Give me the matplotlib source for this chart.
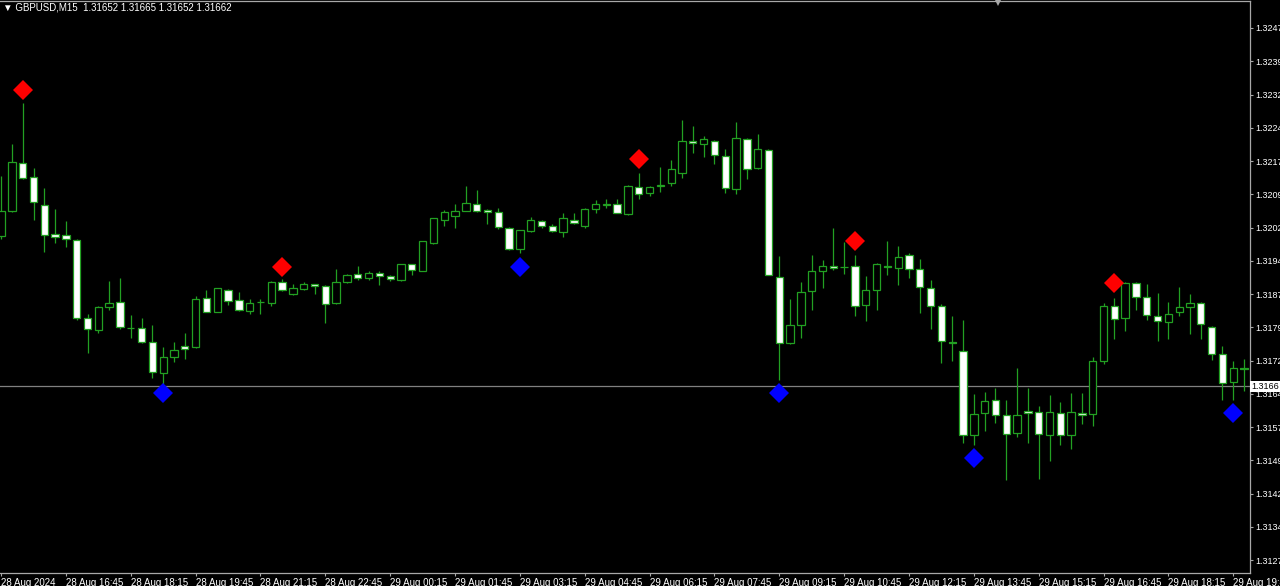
import matplotlib
matplotlib.use("Agg")
import matplotlib.pyplot as plt
import numpy as np

# GBPUSD M15 bars, first visible bar = 28 Aug 15:15
opens = [1.32001, 1.32058, 1.32165, 1.32133, 1.32070, 1.32005, 1.32004, 1.31992, 1.31816, 1.31789,
         1.31840, 1.31853, 1.31793, 1.31793, 1.31762, 1.31692, 1.31727, 1.31753, 1.31750, 1.31860,
         1.31830, 1.31880, 1.31857, 1.31831, 1.31851, 1.31849, 1.31898, 1.31869, 1.31882, 1.31892,
         1.31889, 1.31850, 1.31896, 1.31915, 1.31907, 1.31917, 1.31910, 1.31902, 1.31937, 1.31923,
         1.31984, 1.32037, 1.32046, 1.32058, 1.32074, 1.32060, 1.32056, 1.32020, 1.31971, 1.32011,
         1.32034, 1.32023, 1.32010, 1.32038, 1.32024, 1.32061, 1.32071, 1.32072, 1.32050, 1.32111,
         1.32097, 1.32113, 1.32120, 1.32144, 1.32215, 1.32208, 1.32216, 1.32182, 1.32106, 1.32220,
         1.32154, 1.32195, 1.31909, 1.31759, 1.31800, 1.31877, 1.31921, 1.31934, 1.31931, 1.31934,
         1.31845, 1.31878, 1.31934, 1.31928, 1.31958, 1.31927, 1.31884, 1.31843, 1.31761, 1.31741,
         1.31552, 1.31601, 1.31630, 1.31596, 1.31556, 1.31605, 1.31604, 1.31552, 1.31602, 1.31552,
         1.31602, 1.31599, 1.31719, 1.31843, 1.31815, 1.31895, 1.31864, 1.31820, 1.31806, 1.31830,
         1.31840, 1.31849, 1.31796, 1.31734, 1.31671, 1.31702]
highs = [1.32136, 1.32208, 1.32301, 1.32154, 1.32108, 1.32062, 1.32034, 1.31994, 1.31826, 1.31843,
         1.31899, 1.31907, 1.31822, 1.31817, 1.31800, 1.31751, 1.31761, 1.31781, 1.31865, 1.31879,
         1.31884, 1.31881, 1.31875, 1.31858, 1.31859, 1.31900, 1.31903, 1.31892, 1.31898, 1.31893,
         1.31890, 1.31927, 1.31915, 1.31934, 1.31922, 1.31922, 1.31913, 1.31938, 1.31938, 1.31990,
         1.32042, 1.32059, 1.32073, 1.32114, 1.32104, 1.32061, 1.32065, 1.32021, 1.32015, 1.32044,
         1.32037, 1.32027, 1.32053, 1.32052, 1.32063, 1.32083, 1.32084, 1.32084, 1.32115, 1.32144,
         1.32113, 1.32156, 1.32172, 1.32262, 1.32249, 1.32226, 1.32217, 1.32198, 1.32259, 1.32223,
         1.32231, 1.32196, 1.31956, 1.31858, 1.31898, 1.31957, 1.31947, 1.32018, 1.31988, 1.31958,
         1.31911, 1.31941, 1.31989, 1.31979, 1.31962, 1.31948, 1.31901, 1.31847, 1.31821, 1.31811,
         1.31644, 1.31649, 1.31659, 1.31631, 1.31702, 1.31657, 1.31617, 1.31642, 1.31626, 1.31646,
         1.31646, 1.31727, 1.31850, 1.31862, 1.31898, 1.31896, 1.31892, 1.31873, 1.31851, 1.31886,
         1.31870, 1.31852, 1.31797, 1.31753, 1.31719, 1.31723]
lows = [1.31994, 1.32055, 1.32130, 1.32037, 1.31964, 1.31986, 1.31977, 1.31811, 1.31736, 1.31781,
        1.31835, 1.31792, 1.31771, 1.31759, 1.31681, 1.31667, 1.31717, 1.31723, 1.31748, 1.31829,
        1.31829, 1.31845, 1.31832, 1.31826, 1.31825, 1.31844, 1.31877, 1.31868, 1.31880, 1.31871,
        1.31804, 1.31848, 1.31894, 1.31901, 1.31901, 1.31890, 1.31900, 1.31900, 1.31913, 1.31922,
        1.31982, 1.32023, 1.32018, 1.32057, 1.32055, 1.32029, 1.32017, 1.31970, 1.31962, 1.32010,
        1.32019, 1.32009, 1.31998, 1.32029, 1.32019, 1.32052, 1.32064, 1.32052, 1.32049, 1.32085,
        1.32091, 1.32099, 1.32113, 1.32131, 1.32189, 1.32178, 1.32163, 1.32098, 1.32095, 1.32129,
        1.32153, 1.31912, 1.31676, 1.31758, 1.31770, 1.31834, 1.31883, 1.31924, 1.31915, 1.31820,
        1.31810, 1.31835, 1.31913, 1.31890, 1.31907, 1.31828, 1.31791, 1.31715, 1.31719, 1.31534,
        1.31529, 1.31561, 1.31580, 1.31450, 1.31547, 1.31533, 1.31452, 1.31494, 1.31529, 1.31520,
        1.31576, 1.31573, 1.31713, 1.31768, 1.31787, 1.31835, 1.31811, 1.31764, 1.31768, 1.31821,
        1.31779, 1.31768, 1.31721, 1.31632, 1.31632, 1.31651]
closes = [1.32057, 1.32167, 1.32132, 1.32077, 1.32004, 1.31999, 1.31995, 1.31817, 1.31792, 1.31841,
          1.31850, 1.31795, 1.31793, 1.31761, 1.31694, 1.31728, 1.31744, 1.31746, 1.31859, 1.31830,
          1.31883, 1.31855, 1.31834, 1.31849, 1.31853, 1.31898, 1.31879, 1.31884, 1.31892, 1.31889,
          1.31848, 1.31897, 1.31913, 1.31907, 1.31917, 1.31910, 1.31904, 1.31937, 1.31924, 1.31989,
          1.32041, 1.32054, 1.32057, 1.32076, 1.32058, 1.32055, 1.32021, 1.31971, 1.32014, 1.32036,
          1.32023, 1.32011, 1.32041, 1.32030, 1.32062, 1.32072, 1.32074, 1.32053, 1.32114, 1.32096,
          1.32111, 1.32116, 1.32151, 1.32216, 1.32210, 1.32219, 1.32183, 1.32108, 1.32221, 1.32153,
          1.32198, 1.31913, 1.31760, 1.31801, 1.31875, 1.31921, 1.31934, 1.31929, 1.31932, 1.31843,
          1.31878, 1.31937, 1.31930, 1.31953, 1.31926, 1.31886, 1.31843, 1.31763, 1.31760, 1.31553,
          1.31599, 1.31628, 1.31597, 1.31554, 1.31598, 1.31602, 1.31554, 1.31604, 1.31551, 1.31604,
          1.31598, 1.31720, 1.31842, 1.31813, 1.31895, 1.31864, 1.31822, 1.31809, 1.31826, 1.31840,
          1.31849, 1.31802, 1.31735, 1.31670, 1.31703, 1.31700]

# indicator arrows (diamonds)
sell_idx = [2, 26, 59, 79, 103]
sell_px = [1.32330, 1.31932, 1.32174, 1.31989, 1.31894]
buy_idx = [15, 48, 72, 90, 114]
buy_px = [1.31646, 1.31932, 1.31646, 1.31501, 1.31602]

last_price = 1.31662
header = "\u25BC GBPUSD,M15  1.31652 1.31665 1.31652 1.31662"

time_ticks = list(range(0, 115, 6))
time_labels = ["28 Aug 2024", "28 Aug 16:45", "28 Aug 18:15", "28 Aug 19:45", "28 Aug 21:15",
               "28 Aug 22:45", "29 Aug 00:15", "29 Aug 01:45", "29 Aug 03:15", "29 Aug 04:45",
               "29 Aug 06:15", "29 Aug 07:45", "29 Aug 09:15", "29 Aug 10:45", "29 Aug 12:15",
               "29 Aug 13:45", "29 Aug 15:15", "29 Aug 16:45", "29 Aug 18:15", "29 Aug 19:45"]
price_ticks = [1.32470, 1.32395, 1.32320, 1.32245, 1.32170, 1.32095, 1.32020, 1.31945, 1.31870,
               1.31795, 1.31720, 1.31645, 1.31570, 1.31495, 1.31420, 1.31345, 1.31270]
price_labels = ["1.3247", "1.3239", "1.3232", "1.3224", "1.3217", "1.3209", "1.3202", "1.3194",
                "1.3187", "1.3179", "1.3172", "1.3164", "1.3157", "1.3149", "1.3142", "1.3134",
                "1.3127"]

plt.rcParams['font.family'] = ['Liberation Sans', 'DejaVu Sans']
green = '#22a022'
axis_col = '#a8a8a8'

fig = plt.figure(figsize=(12.8, 5.86), dpi=100, facecolor='black')
ax = fig.add_axes([0, 13 / 586, 1250 / 1280, 572 / 586])
ax.set_facecolor('black')

x = np.arange(len(opens))
o = np.array(opens)
c = np.array(closes)
bull = c > o
face = np.where(bull, 'black', 'white')

ax.vlines(x, lows, highs, color=green, linewidth=0.9, zorder=2)
ax.bar(x, np.abs(c - o), bottom=np.minimum(o, c), width=0.68, color=face,
       edgecolor=green, linewidth=0.9, zorder=3)

ax.axhline(last_price, color='#808080', linewidth=0.9, zorder=1)

ax.plot(sell_idx, sell_px, 'D', color='#ff0000', markersize=10, markeredgewidth=0, zorder=4)
ax.plot(buy_idx, buy_px, 'D', color='#0000ff', markersize=10, markeredgewidth=0, zorder=4)

ax.set_xlim(-0.1, 115.55)
ax.set_ylim(1.312407, 1.325309)

ax.set_xticks(time_ticks)
ax.set_xticklabels(time_labels)
for lbl in ax.get_xticklabels():
    lbl.set_horizontalalignment('left')
ax.yaxis.tick_right()
ax.set_yticks(price_ticks)
ax.set_yticklabels(price_labels)
ax.tick_params(axis='both', colors=axis_col, labelcolor='white', labelsize=7,
               length=2.5, width=0.8, direction='out')
ax.tick_params(axis='x', pad=1)
ax.tick_params(axis='y', pad=1.5, labelsize=6.5)

ax.spines['left'].set_visible(False)
for side in ['right', 'bottom', 'top']:
    ax.spines[side].set_color(axis_col)
    ax.spines[side].set_linewidth(0.9)

# current price box on the price scale
ax.text(1.0012, last_price, "1.3166", transform=ax.get_yaxis_transform(),
        ha='left', va='center', fontsize=6.5, color='black', clip_on=False, zorder=10,
        bbox=dict(boxstyle='square,pad=0.12', facecolor='white', edgecolor='none'))

fig.text(3 / 1280, 1 - 8 / 586, header, color='white', fontsize=7, va='center', ha='left')
ax.plot([0.798], [0.996], marker='v', color=axis_col, markersize=5, transform=ax.transAxes,
        clip_on=False, markeredgewidth=0)

fig.savefig('out.png', dpi=100, facecolor='black')
